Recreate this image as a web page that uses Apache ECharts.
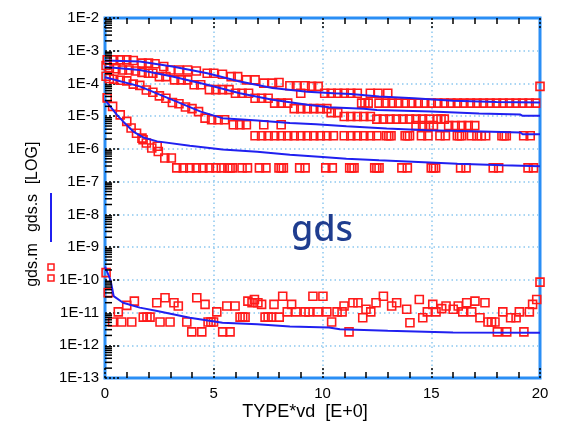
<!DOCTYPE html>
<html>
<head>
<meta charset="utf-8">
<script src="https://cdn.jsdelivr.net/npm/echarts@6/dist/echarts.min.js"></script>
<style>
  html, body { margin: 0; padding: 0; background: #fff; }
  #chart { width: 563px; height: 427px; }
</style>
</head>
<body>
<div id="chart"></div>
<script>
// gds versus TYPE*vd. Values are stored as log10(gds) and plotted on a
// value axis whose labels read as decades (1E-2 ... 1E-13).

const xRange = [0, 20];
const yDecades = [-13, -2];
const logMantissas = [2, 3, 4, 5, 6, 7, 8, 9];

// simulated gds.s curves (x, log10 gds)
const gdsSim1 = [[0,-3.30],[1.6,-3.33],[3.1,-3.48],[4.7,-3.69],[6.2,-3.94],[7.7,-4.14],[9.3,-4.25],[10.5,-4.30],[11.3,-4.32],[12.6,-4.40],[14.2,-4.45],[16.0,-4.53],[18.0,-4.57],[20,-4.58]];
const gdsSim2 = [[0,-3.50],[1.6,-3.59],[3.1,-3.79],[4.7,-4.04],[6.2,-4.30],[7.7,-4.50],[9.3,-4.65],[10.3,-4.73],[11.9,-4.77],[12.5,-4.81],[15.0,-4.86],[17.2,-4.92],[19.1,-4.95],[19.2,-4.99],[20,-4.99]];
const gdsSim3 = [[0,-3.81],[1.6,-4.09],[3.1,-4.50],[4.4,-4.86],[5.4,-5.06],[7.0,-5.13],[8.5,-5.21],[9.7,-5.25],[11.1,-5.31],[12.95,-5.38],[14.8,-5.43],[16.9,-5.46],[19.1,-5.50],[19.2,-5.55],[20,-5.55]];
const gdsSim4 = [[0,-4.50],[0.55,-4.96],[0.83,-5.16],[1.3,-5.47],[1.76,-5.65],[2.4,-5.77],[3.9,-5.90],[5.4,-6.02],[7.0,-6.09],[8.5,-6.18],[10.0,-6.25],[11.1,-6.30],[12.6,-6.35],[14.4,-6.40],[16.2,-6.45],[18.3,-6.50],[20,-6.53]];
const gdsSim5 = [[0,-9.60],[0.25,-10.0],[0.4,-10.50],[0.83,-10.70],[1.6,-10.85],[2.4,-10.95],[3.9,-11.16],[5.4,-11.31],[7.0,-11.36],[8.5,-11.43],[10.3,-11.46],[10.8,-11.51],[13.0,-11.56],[16.0,-11.61],[20,-11.62]];

// measured gds.m points (x, log10 gds)
const gdsMeas1 = [[0.1,-3.28],[0.4,-3.28],[0.7,-3.28],[1.0,-3.28],[1.3,-3.30],[1.7,-3.38],[2.0,-3.38],[2.3,-3.40],[2.7,-3.48],[3.0,-3.59],[3.4,-3.59],[3.8,-3.59],[4.2,-3.62],[4.7,-3.69],[5.0,-3.69],[5.4,-3.72],[5.8,-3.79],[6.1,-3.79],[6.5,-3.89],[6.9,-3.89],[7.3,-3.99],[7.7,-3.99],[8.0,-3.97],[8.5,-4.07],[8.8,-4.07],[9.0,-4.30],[9.2,-4.07],[9.5,-4.09],[9.8,-4.09],[10.1,-4.30],[10.4,-4.30],[10.7,-4.30],[11.0,-4.30],[11.3,-4.30],[11.6,-4.30],[12.2,-4.30],[12.55,-4.30],[13.0,-4.30],[11.8,-4.60],[11.95,-4.60],[12.1,-4.60],[12.6,-4.60],[12.9,-4.60],[13.2,-4.60],[13.5,-4.60],[13.8,-4.60],[14.1,-4.60],[14.4,-4.60],[14.7,-4.60],[15.0,-4.60],[15.3,-4.60],[15.6,-4.60],[15.9,-4.60],[16.2,-4.60],[16.5,-4.60],[16.8,-4.60],[17.1,-4.60],[17.4,-4.60],[17.7,-4.60],[18.0,-4.60],[18.3,-4.60],[18.6,-4.60],[18.9,-4.60],[19.2,-4.60],[19.5,-4.60],[19.8,-4.60],[20.0,-4.09]];
const gdsMeas2 = [[0.05,-3.45],[0.2,-3.52],[0.5,-3.55],[0.8,-3.59],[1.1,-3.59],[1.4,-3.62],[1.7,-3.66],[2.0,-3.69],[2.2,-3.69],[2.5,-3.79],[2.8,-3.79],[3.2,-3.89],[3.5,-3.89],[3.8,-3.89],[4.1,-4.04],[4.4,-4.04],[4.8,-4.19],[5.1,-4.19],[5.4,-4.19],[5.7,-4.19],[6.0,-4.30],[6.3,-4.30],[6.6,-4.30],[6.9,-4.45],[7.2,-4.45],[7.5,-4.45],[7.8,-4.60],[8.1,-4.60],[8.4,-4.60],[8.7,-4.77],[9.0,-4.77],[9.3,-4.77],[9.6,-4.77],[9.9,-4.77],[10.2,-4.77],[10.4,-4.89],[10.7,-4.89],[11.0,-5.01],[11.3,-5.01],[11.6,-5.01],[11.9,-5.01],[12.2,-5.01],[12.5,-5.09],[12.8,-5.09],[13.1,-5.09],[13.4,-5.09],[13.7,-5.09],[14.0,-5.09],[14.3,-5.09],[14.6,-5.09],[14.9,-5.09],[15.3,-5.09],[15.45,-5.09],[15.6,-5.09],[15.8,-5.29],[16.1,-5.29],[16.4,-5.29],[16.7,-5.29],[17.0,-5.29]];
const gdsMeas3 = [[0.05,-3.78],[0.2,-3.85],[0.4,-3.87],[0.7,-3.90],[1.0,-3.92],[1.3,-4.02],[1.6,-4.06],[1.9,-4.20],[2.2,-4.27],[2.5,-4.38],[2.8,-4.45],[3.1,-4.58],[3.4,-4.62],[3.7,-4.72],[4.0,-4.77],[4.3,-4.86],[4.6,-5.06],[4.9,-5.11],[5.2,-5.11],[5.5,-5.11],[5.9,-5.26],[6.2,-5.26],[6.5,-5.26],[7.3,-5.26],[8.1,-5.26],[14.3,-5.29],[14.6,-5.29],[14.9,-5.29],[15.1,-5.29],[6.9,-5.60],[7.2,-5.60],[7.5,-5.60],[7.8,-5.60],[8.1,-5.60],[8.4,-5.60],[8.7,-5.60],[9.0,-5.60],[9.3,-5.60],[9.6,-5.60],[9.9,-5.60],[10.2,-5.60],[10.5,-5.60],[11.0,-5.60],[11.3,-5.60],[11.6,-5.60],[11.9,-5.60],[12.2,-5.60],[12.5,-5.60],[12.95,-5.60],[13.05,-5.60],[13.15,-5.60],[13.8,-5.60],[13.9,-5.60],[14.0,-5.60],[14.55,-5.60],[14.85,-5.60],[15.4,-5.60],[15.65,-5.60],[16.2,-5.60],[16.3,-5.60],[16.4,-5.60],[16.85,-5.60],[17.1,-5.60],[17.3,-5.60],[17.5,-5.60],[18.25,-5.60],[18.35,-5.60],[18.45,-5.60],[19.25,-5.60],[19.55,-5.60]];
const gdsMeas4 = [[0.1,-4.44],[0.35,-4.70],[0.7,-4.96],[1.0,-5.16],[1.2,-5.36],[1.45,-5.52],[1.7,-5.67],[1.75,-5.72],[1.9,-5.82],[2.15,-5.97],[2.4,-5.92],[2.45,-6.08],[2.75,-6.28],[3.05,-6.28],[3.3,-6.58],[3.6,-6.58],[3.9,-6.58],[4.2,-6.58],[4.5,-6.58],[4.8,-6.58],[5.1,-6.58],[5.35,-6.58],[5.65,-6.58],[5.75,-6.58],[5.85,-6.58],[6.3,-6.58],[6.55,-6.58],[7.1,-6.58],[7.4,-6.58],[8.0,-6.58],[8.1,-6.58],[8.2,-6.58],[8.95,-6.58],[9.2,-6.58],[10.15,-6.58],[10.45,-6.58],[11.25,-6.58],[11.35,-6.58],[11.45,-6.58],[12.4,-6.58],[12.5,-6.58],[12.6,-6.58],[13.65,-6.58],[13.9,-6.58],[15.0,-6.58],[15.1,-6.58],[15.2,-6.58],[16.35,-6.58],[16.6,-6.58],[17.85,-6.58],[18.1,-6.58],[19.45,-6.58],[19.7,-6.58]];
const gdsMeas5 = [[0.05,-9.78],[0.15,-10.39],[0.35,-11.29],[0.61,-10.98],[0.77,-11.29],[1.0,-10.78],[1.23,-11.29],[1.35,-10.65],[1.76,-11.14],[1.93,-11.14],[2.07,-11.14],[2.38,-10.70],[2.53,-11.29],[2.76,-10.55],[2.99,-11.29],[3.17,-10.70],[3.37,-10.80],[3.76,-11.29],[3.99,-11.59],[4.22,-10.55],[4.45,-11.59],[4.60,-10.75],[4.74,-11.29],[4.87,-11.29],[4.99,-11.29],[5.14,-10.98],[5.41,-11.59],[5.60,-10.80],[5.75,-11.59],[5.98,-10.80],[6.21,-11.14],[6.33,-11.14],[6.44,-11.14],[6.57,-10.65],[6.76,-10.70],[6.87,-10.60],[7.03,-10.70],[7.20,-10.75],[7.36,-11.14],[7.50,-11.14],[7.66,-11.14],[7.77,-10.75],[8.01,-11.14],[8.17,-10.50],[8.38,-10.98],[8.58,-10.75],[8.78,-10.98],[9.20,-10.98],[9.38,-10.98],[9.79,-10.98],[10.2,-10.98],[9.56,-10.50],[10.02,-10.50],[10.42,-11.29],[10.67,-10.98],[10.9,-10.98],[10.99,-10.80],[11.22,-11.59],[11.40,-10.70],[11.63,-10.70],[11.85,-11.16],[12.0,-10.90],[12.22,-10.98],[12.46,-10.70],[12.80,-10.50],[13.18,-10.80],[13.41,-10.70],[13.87,-10.90],[14.02,-11.31],[14.45,-10.60],[14.61,-11.16],[14.82,-10.98],[15.07,-10.75],[15.22,-10.98],[15.48,-10.88],[15.68,-10.80],[16.01,-10.90],[16.24,-10.80],[16.45,-10.98],[16.63,-10.70],[16.86,-10.98],[17.01,-10.65],[17.24,-11.16],[17.47,-10.70],[17.61,-11.29],[17.77,-11.29],[17.93,-11.29],[18.04,-11.59],[18.29,-10.98],[18.47,-11.59],[18.65,-11.16],[18.9,-11.16],[19.05,-10.98],[19.26,-11.59],[19.51,-10.98],[19.66,-10.75],[19.85,-10.60],[20.0,-10.07]];

const measuredSets = [gdsMeas1, gdsMeas2, gdsMeas3, gdsMeas4, gdsMeas5];
const simulatedSets = [gdsSim1, gdsSim2, gdsSim3, gdsSim4, gdsSim5];

// log sub-divisions (2..9 x 10^n) for the minor ticks on the y axis
const minorTickValues = [];
for (let e = yDecades[0]; e < yDecades[1]; e++) {
  logMantissas.forEach(m => minorTickValues.push([0, e + Math.log10(m)]));
}

const FONT = 'Liberation Sans';
const RED = '#ff1a1a';
const BLUE = '#2020f0';
const GRID_BLUE = '#8cc8f0';

const chart = echarts.init(document.getElementById('chart'), null, { renderer: 'canvas' });

const xAxisBase = {
  type: 'value', min: xRange[0], max: xRange[1], interval: 5,
  axisLine: { show: false },
  axisTick: { show: true, inside: true, length: 11, lineStyle: { color: '#000', width: 1.5, type: [2, 2] } },
  minorTick: { show: true, splitNumber: 5, length: 6, lineStyle: { color: '#000', width: 1.5 } }
};

const series = [];
measuredSets.forEach((d, i) => {
  series.push({
    type: 'scatter', name: 'gds.m ' + (i + 1), data: d,
    symbol: 'rect', symbolSize: 8,
    itemStyle: { color: 'rgba(255,255,255,0)', borderColor: RED, borderWidth: 1.6, opacity: 1 },
    z: 3
  });
});
simulatedSets.forEach((d, i) => {
  series.push({
    type: 'line', name: 'gds.s ' + (i + 1), data: d,
    showSymbol: false, symbol: 'none',
    lineStyle: { color: BLUE, width: 2 },
    z: 4
  });
});
series.push({
  type: 'custom', name: 'log minor ticks', data: minorTickValues, silent: true, z: 6,
  renderItem: (params, api) => {
    const p = api.coord([api.value(0), api.value(1)]);
    return { type: 'line', shape: { x1: p[0], y1: p[1], x2: p[0] + 7, y2: p[1] },
             style: { stroke: '#000', lineWidth: 1.5 } };
  }
});

chart.setOption({
  animation: false,
  backgroundColor: '#fff',
  grid: { left: 105, right: 23, top: 18, bottom: 49, show: true,
          borderColor: '#2a8ef5', borderWidth: 3, backgroundColor: 'rgba(0,0,0,0)' },
  xAxis: [
    Object.assign({}, xAxisBase, {
      position: 'bottom',
      axisLabel: { color: '#000', fontSize: 15, fontFamily: FONT, margin: 8 },
      splitLine: { show: true, showMinLine: false, showMaxLine: false,
                   lineStyle: { color: GRID_BLUE, width: 1.5, type: [1.5, 3] } }
    }),
    Object.assign({}, xAxisBase, {
      position: 'top',
      axisLabel: { show: false },
      splitLine: { show: false }
    })
  ],
  yAxis: {
    type: 'value', min: yDecades[0], max: yDecades[1], interval: 1,
    axisLine: { show: false },
    axisTick: { show: true, inside: true, length: 16, lineStyle: { color: '#000', width: 1.5, type: [2, 2] } },
    axisLabel: { color: '#000', fontSize: 15, fontFamily: FONT, margin: 6,
                 formatter: v => '1E' + v },
    splitLine: { show: true, showMinLine: false, showMaxLine: false,
                 lineStyle: { color: GRID_BLUE, width: 1.5, type: [1.5, 3] } }
  },
  graphic: [
    { type: 'text', x: 305, y: 412, style: { text: 'TYPE*vd  [E+0]', font: '18px "Liberation Sans"', fill: '#000', align: 'center', verticalAlign: 'middle' } },
    { type: 'text', x: 33, y: 265, rotation: Math.PI / 2, style: { text: 'gds.m', font: '16px "Liberation Sans"', fill: '#000', align: 'center', verticalAlign: 'middle' } },
    { type: 'text', x: 33, y: 213, rotation: Math.PI / 2, style: { text: 'gds.s', font: '16px "Liberation Sans"', fill: '#000', align: 'center', verticalAlign: 'middle' } },
    { type: 'text', x: 33, y: 163, rotation: Math.PI / 2, style: { text: '[LOG]', font: '16px "Liberation Sans"', fill: '#000', align: 'center', verticalAlign: 'middle' } },
    { type: 'line', shape: { x1: 51, y1: 193, x2: 51, y2: 242 }, style: { stroke: BLUE, lineWidth: 2 } },
    { type: 'rect', shape: { x: 48, y: 264, width: 6, height: 6 }, style: { fill: 'none', stroke: RED, lineWidth: 1.5 } },
    { type: 'rect', shape: { x: 48, y: 275, width: 6, height: 6 }, style: { fill: 'none', stroke: RED, lineWidth: 1.5 } },
    { type: 'text', x: 322, y: 231, z: 10, style: { text: 'gds', font: '500 36px "Noto Sans"', fill: '#1f3d8f', align: 'center', verticalAlign: 'middle' } }
  ],
  series: series
});
</script>
</body>
</html>
